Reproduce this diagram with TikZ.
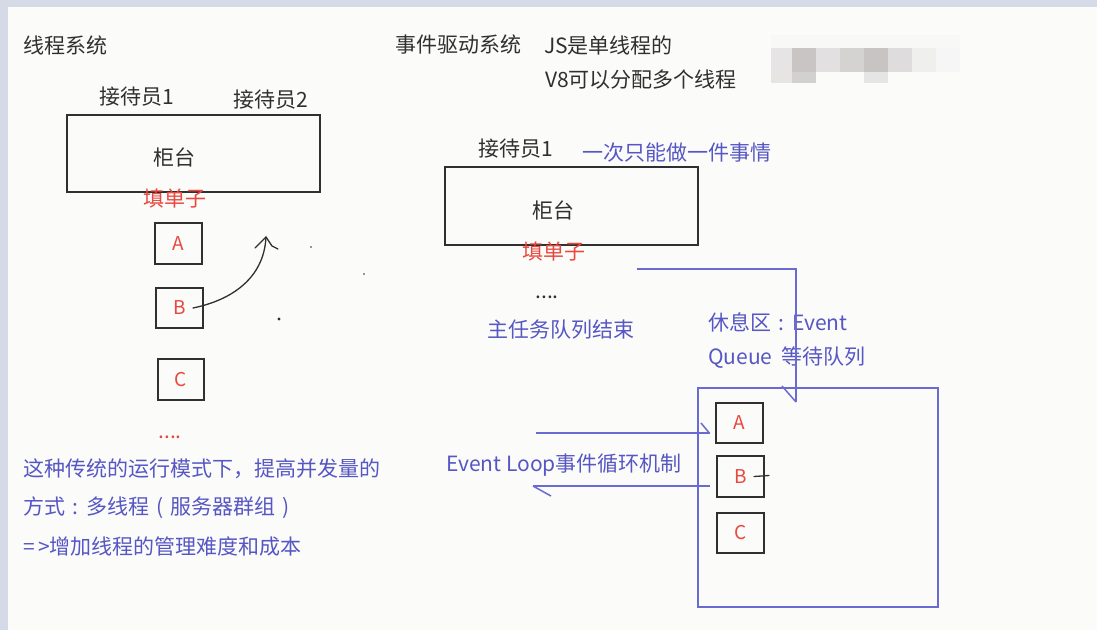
\documentclass[tikz,border=0pt]{standalone}
\usepackage{fontspec}
\setmainfont{Noto Sans CJK SC}
\usetikzlibrary{calc}
\definecolor{ink}{HTML}{303030}
\definecolor{bl}{HTML}{5656C4}
\definecolor{bline}{HTML}{6A6AD2}
\definecolor{rd}{HTML}{E8483E}
\definecolor{bg}{HTML}{FBFBFA}
\definecolor{edge}{HTML}{D6DAE6}
\definecolor{wa}{HTML}{F8F8F7}
\definecolor{wb}{HTML}{E6E4E4}
\definecolor{wc}{HTML}{C9C5C4}
\definecolor{wd}{HTML}{E2E0E1}
\definecolor{we}{HTML}{D5D3D2}
\definecolor{wf}{HTML}{C8C4C3}
\definecolor{wg}{HTML}{DEDCDD}
\definecolor{wh}{HTML}{EFEFED}
\definecolor{wi}{HTML}{F6F6F6}
\definecolor{wj}{HTML}{E6E5E3}
\definecolor{wk}{HTML}{D3D1D0}
\definecolor{wl}{HTML}{E6E5E5}
\newcommand\zcolon{\makebox[1em]{:}}
\newcommand\zlp{\makebox[1em]{(}}
\newcommand\zrp{\makebox[1em]{)}}
\tikzset{
  txt/.style={inner sep=0pt, anchor=west, font=\fontsize{21}{25}\selectfont, text=ink},
  btxt/.style={txt, text=bl},
  rtxt/.style={inner sep=0pt, font=\fontsize{21}{25}\selectfont, text=rd},
  counter/.style={draw=ink, line width=1.4pt, inner sep=0pt, minimum width=253pt, minimum height=77pt},
  cell/.style={draw=ink, line width=1.4pt, inner sep=0pt, minimum width=47pt, minimum height=41pt, text=rd, font=\fontsize{19}{22}\selectfont},
  inkline/.style={draw=ink, line width=1.3pt, line cap=round},
  blueline/.style={draw=bline, line width=1.5pt},
}
\begin{document}
\begin{tikzpicture}[x=1pt,y=-1pt]
\useasboundingbox (0,0) rectangle (1097,630);
\fill[bg] (0,0) rectangle (1097,630);
\fill[edge] (0,0) rectangle (8,630);
\fill[edge] (0,0) rectangle (1097,7);
% pixelated watermark
\fill[wa] (771,35) rectangle (960,48);
\fill[wb] (771,48) rectangle (792,72);
\fill[wc] (792,48) rectangle (816,72);
\fill[wd] (816,48) rectangle (840,72);
\fill[we] (840,48) rectangle (864,72);
\fill[wf] (864,48) rectangle (888,72);
\fill[wg] (888,48) rectangle (912,72);
\fill[wh] (912,48) rectangle (936,72);
\fill[wi] (936,48) rectangle (960,72);
\fill[wj] (771,72) rectangle (792,83);
\fill[wk] (792,72) rectangle (816,83);
\fill[wl] (864,72) rectangle (888,83);

% ---------- left: thread system ----------
\node[txt] (t1) at (23,45) {线程系统};
\node[txt] (r1) at (99,97) {接待员1};
\node[txt] (r2) at (233,100) {接待员2};
\node[counter] (cL) at (193.5,153.5) {};
\node[txt, anchor=center] (cLt) at (174,157) {柜台};
\node[rtxt] (fL) at (175,199) {填单子};
\node[cell] (lA) at (178.5,243.5) {A};
\node[cell, minimum height=40pt] (lB) at (179.5,308) {B};
\node[cell, minimum width=46pt] (lC) at (181,379.5) {C};
\node[rtxt] (dL) at (170,437) {....};
\coordinate (tip) at (266,237);
\draw[inkline] ([xshift=13.5pt]lB.center) .. controls (232,300) and (264,278) .. (tip);
\draw[inkline] (tip) -- (255,248);
\draw[inkline] (tip) -- (272,246) -- (278,249);
\fill[ink] (311,247) circle (0.9);
\fill[ink] (364,274) circle (0.9);
\fill[ink] (279,319) circle (1.6);
\node[btxt] (n1) at (23,469) {这种传统的运行模式下，提高并发量的};
\node[btxt] (n2) at (23,508) {方式\zcolon 多线程\zlp 服务器群组\zrp};
\node[btxt] (n3) at (23,547) {=\,>增加线程的管理难度和成本};

% ---------- right: event driven ----------
\node[txt] (t2) at (395,45) {事件驱动系统};
\node[txt] (js) at (544,45) {JS是单线程的};
\node[txt] (v8) at (545,80) {V8可以分配多个线程};
\node[txt] (r3) at (478,149) {接待员1};
\node[btxt] (once) at (582,153) {一次只能做一件事情};
\node[counter, minimum height=78pt] (cR) at (571.5,206) {};
\node[txt, anchor=center] (cRt) at (553,210) {柜台};
\node[rtxt] (fR) at (554,252) {填单子};
\node[txt, anchor=center] (dR) at (547,297) {....};
\node[btxt] (mainend) at (487,330) {主任务队列结束};
\node[btxt] (rest1) at (708,322) {休息区\zcolon Event};
\node[btxt] (rest2) at (708,358) {Queue\ \ 等待队列};
\node[draw=bline, line width=1.5pt, inner sep=0pt, minimum width=240pt, minimum height=219pt] (queue) at (818,497.5) {};
\node[cell, minimum height=40pt] (rA) at (739.5,423) {A};
\node[cell] (rB) at (740.5,476.5) {B};
\node[cell, minimum height=40pt] (rC) at (740.5,533) {C};
\node[btxt] (loop) at (446,465) {Event Loop事件循环机制};

% connectors
\coordinate (qs) at (637,269);
\coordinate (qe) at (796,402);
\draw[blueline] (qs) -| (qe);
\draw[blueline] (782,386) -- (qe);
\coordinate (ins) at (536,433);
\draw[blueline] (ins) -- ([xshift=-5pt,yshift=-10pt]rA.west);
\draw[blueline] (701,423) -- ([xshift=-6pt,yshift=-10pt]rA.west);
\coordinate (oute) at (533,486);
\draw[blueline] ([xshift=-6pt,yshift=-9.5pt]rB.west) -- (oute);
\draw[blueline] (oute) -- (551,496);
\draw[inkline] ([xshift=13.5pt]rB.center) -- ([xshift=28.5pt,yshift=1pt]rB.center);
\end{tikzpicture}
\end{document}
